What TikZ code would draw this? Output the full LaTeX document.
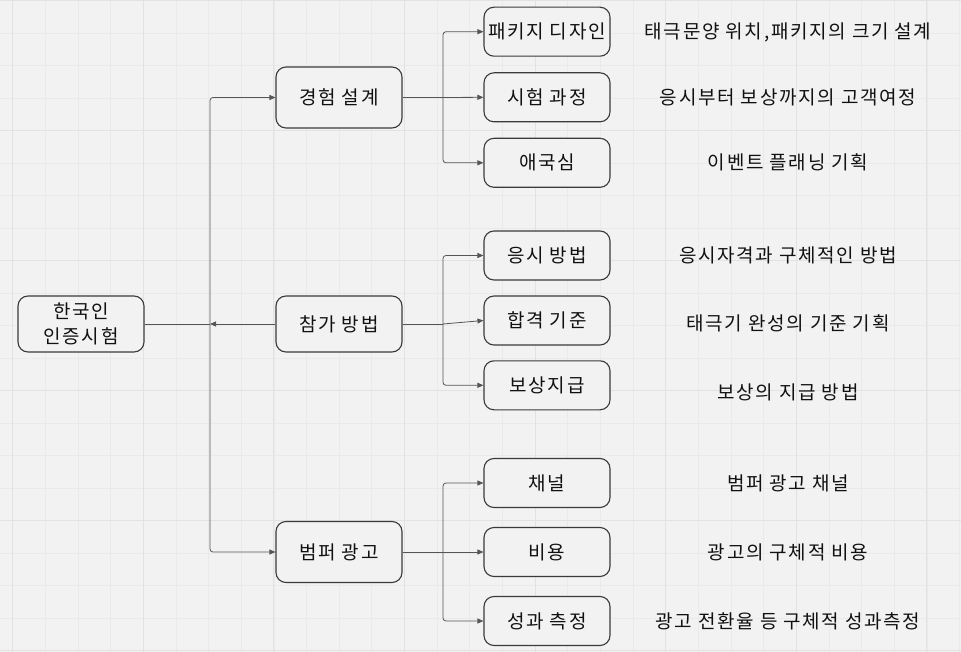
\documentclass[tikz,border=0pt]{standalone}
\usepackage{fontspec}
\setmainfont{Noto Sans CJK KR}[LetterSpace=9]
\usetikzlibrary{arrows.meta}
\definecolor{bgc}{HTML}{F2F2F2}
\definecolor{gminor}{HTML}{EAEAEA}
\definecolor{gmajor}{HTML}{E2E2E2}
\definecolor{edgec}{HTML}{3A3A3A}
\definecolor{linec}{HTML}{555555}
\definecolor{txtc}{HTML}{111111}
\tikzset{
  box/.style={draw=edgec, line width=1.1pt, fill=bgc, rounded corners=10pt,
    minimum width=126pt, inner sep=0pt, text=txtc, align=center,
    font=\fontsize{19}{25}\selectfont},
  leafbox/.style={box, minimum height=49pt},
  midbox/.style={box, minimum height=61pt},
  desc/.style={text=txtc, font=\fontsize{19}{22}\selectfont, inner sep=0pt},
  conn/.style={draw=linec, line width=0.8pt, rounded corners=3pt},
  arr/.style={conn, -{Triangle[length=6pt,width=5pt]}},
  minorl/.style={draw=gminor, line width=0.8pt},
  majorl/.style={draw=gmajor, line width=1pt}
}
\begin{document}
\begin{tikzpicture}[x=1pt,y=-1pt]
\fill[bgc] (0,0) rectangle (961,652);
\useasboundingbox (0,0) rectangle (961,652);
\foreach \k in {0,...,29} \draw[minorl] ({12.7+32.65*\k},0) -- ++(0,652);
\foreach \k in {0,...,20} \draw[minorl] (0,{0.7+32.5*\k}) -- ++(961,0);
\foreach \k in {0,4,...,28} \draw[majorl] ({12.7+32.65*\k},0) -- ++(0,652);
\foreach \k in {0,4,...,20} \draw[majorl] (0,{0.7+32.5*\k}) -- ++(961,0);

% main nodes
\node[box, minimum height=56pt] (root) at (81,324) {한국인\\인증시험};
\node[midbox] (exp) at (339,97.5) {경험 설계};
\node[box, minimum height=56pt] (par) at (339,324) {참가 방법};
\node[midbox] (adv) at (339,552) {범퍼 광고};

% leaves
\node[leafbox] (l1) at (547,31.7) {패키지 디자인};
\node[leafbox] (l2) at (547,97.3) {시험 과정};
\node[leafbox] (l3) at (547,162.8) {애국심};
\node[leafbox] (l4) at (547,255.5) {응시 방법};
\node[leafbox] (l5) at (547,320.5) {합격 기준};
\node[leafbox] (l6) at (547,385.3) {보상지급};
\node[leafbox] (l7) at (547,483) {채널};
\node[leafbox] (l8) at (547,552) {비용};
\node[leafbox] (l9) at (547,621) {성과 측정};

% descriptions
\node[desc] (d1) at (788,32) {태극문양 위치,패키지의 크기 설계};
\node[desc] (d2) at (788,97) {응시부터 보상까지의 고객여정};
\node[desc] (d3) at (788,162) {이벤트 플래닝 기획};
\node[desc] (d4) at (788,255) {응시자격과 구체적인 방법};
\node[desc] (d5) at (788,323) {태극기 완성의 기준 기획};
\node[desc] (d6) at (788,392) {보상의 지급 방법};
\node[desc] (d7) at (788,483) {범퍼 광고 채널};
\node[desc] (d8) at (788,552) {광고의 구체적 비용};
\node[desc] (d9) at (788,621) {광고 전환율 등 구체적 성과측정};

% trunk
\coordinate (tc) at (210,324);
\draw[conn] (root.east) -- (tc);
\draw[arr] (par.west) -- (tc);
\draw[arr] (tc) |- (exp.west);
\draw[arr] (tc) |- (adv.west);

% branches
\coordinate (b1) at (443,97.5);
\coordinate (b2) at (443,324);
\coordinate (b3) at (443,552);
\draw[conn] (exp.east) -- (b1);
\draw[arr] (b1) |- (l1.west);
\draw[arr] (b1) -- (l2.west);
\draw[arr] (b1) |- (l3.west);
\draw[conn] (par.east) -- (b2);
\draw[arr] (b2) |- (l4.west);
\draw[arr] (b2) -- (l5.west);
\draw[arr] (b2) |- (l6.west);
\draw[conn] (adv.east) -- (b3);
\draw[arr] (b3) |- (l7.west);
\draw[arr] (b3) -- (l8.west);
\draw[arr] (b3) |- (l9.west);
\end{tikzpicture}
\end{document}
